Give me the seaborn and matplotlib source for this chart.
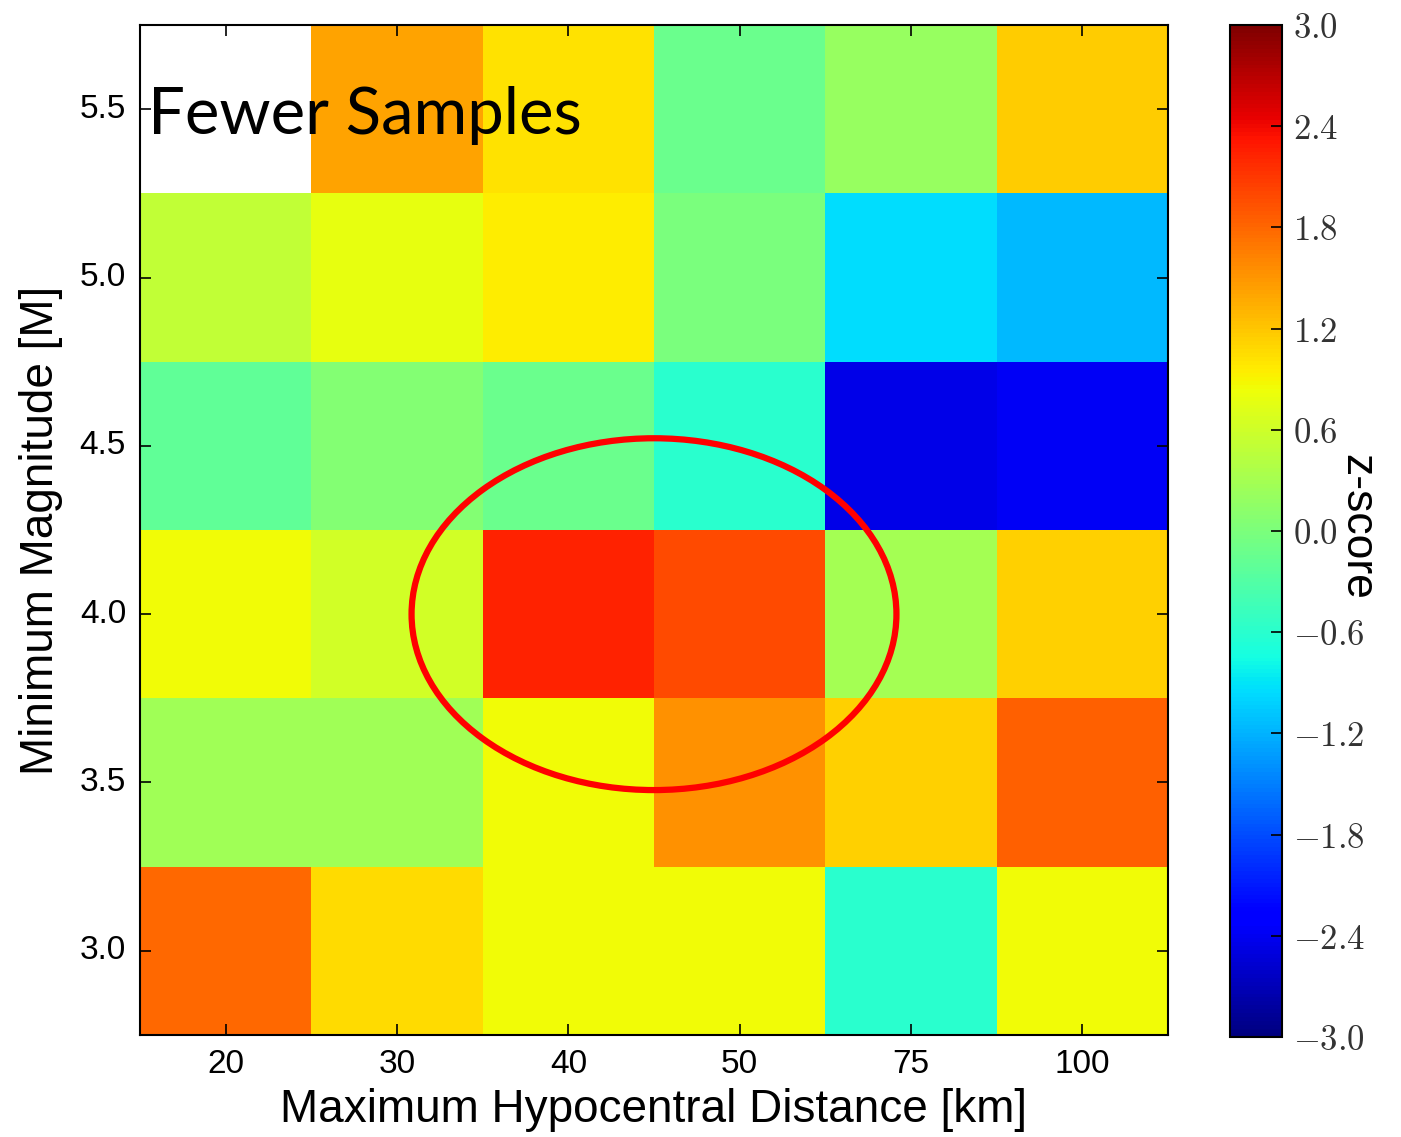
import numpy as np
import pandas as pd
import matplotlib
matplotlib.use("Agg")
import matplotlib.pyplot as plt
import seaborn as sns
from matplotlib.patches import Ellipse
from matplotlib.ticker import FuncFormatter

distances = ["20", "30", "40", "50", "75", "100"]
magnitudes = ["5.5", "5.0", "4.5", "4.0", "3.5", "3.0"]  # top to bottom

row_55 = [np.nan, 1.41, 1.03, -0.13, 0.19, 1.16]
row_50 = [0.50, 0.78, 0.94, -0.01, -0.96, -1.16]
row_45 = [-0.20, 0.05, -0.12, -0.59, -2.45, -2.38]
row_40 = [0.85, 0.63, 2.24, 1.99, 0.30, 1.13]
row_35 = [0.26, 0.26, 0.85, 1.54, 1.13, 1.83]
row_30 = [1.80, 1.06, 0.85, 0.85, -0.59, 0.85]

cbar_ticks = [-3.0, -2.4, -1.8, -1.2, -0.6, 0.0, 0.6, 1.2, 1.8, 2.4, 3.0]

df = pd.DataFrame([row_55, row_50, row_45, row_40, row_35, row_30],
                  index=magnitudes, columns=distances)

plt.rcParams['font.family'] = ['Liberation Sans', 'DejaVu Sans']
plt.rcParams['mathtext.fontset'] = 'cm'

fig = plt.figure(figsize=(14.01, 11.37), dpi=100)
ax = fig.add_axes([140/1401, 1-1035/1137, 1028/1401, 1010/1137])
cax = fig.add_axes([1230/1401, 1-1037/1137, 52/1401, 1012/1137])

sns.heatmap(df, cmap='jet', vmin=-3, vmax=3, ax=ax, cbar_ax=cax,
            cbar_kws={'ticks': cbar_ticks})

ax.set_facecolor('white')
for s in ax.spines.values():
    s.set_visible(True)
    s.set_color('black')
    s.set_linewidth(1.5)

ax.tick_params(axis='both', direction='in', length=8, width=1.2, color='black',
               labelsize=24, top=True, right=True, bottom=True, left=True, pad=10)
ax.set_xticklabels(distances, rotation=0)
ax.set_yticklabels(magnitudes, rotation=0)
ax.set_xlabel("Maximum Hypocentral Distance [km]", fontsize=33, labelpad=6)
ax.set_ylabel("Minimum Magnitude [M]", fontsize=33, labelpad=12)

ax.add_patch(Ellipse((3.0, 3.5), width=2.83, height=2.09, fill=False,
                     edgecolor='#ff0000', linewidth=4.5, zorder=5))

ax.text(0.045, 0.54, "Fewer Samples", fontsize=47, family=['Lato', 'DejaVu Sans'],
        color='black', ha='left', va='center', zorder=6)

cb = ax.collections[0].colorbar
cb.outline.set_edgecolor('black')
cb.outline.set_linewidth(1.5)
cax.tick_params(direction='in', length=8, width=1.2, color='black', labelsize=25, pad=8)
cax.yaxis.set_major_formatter(FuncFormatter(lambda v, p: r'$%.1f$' % v))
for t in cax.get_yticklabels():
    t.set_color('#333333')

fig.text(1357/1401, 1-527/1137, "z-score", rotation=270, fontsize=32,
         ha='center', va='center')

fig.savefig("out.png", dpi=100)
